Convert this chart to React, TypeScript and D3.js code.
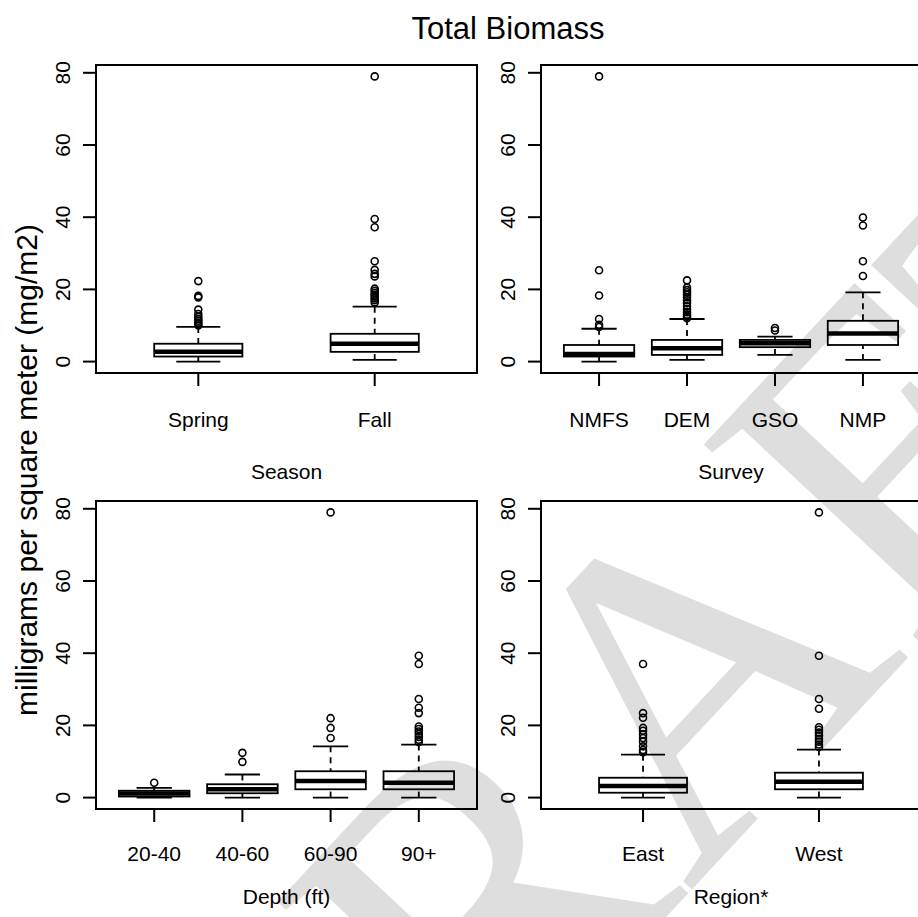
import React from "react";
import * as d3 from "d3";

// ---------- data ----------
const yTickValues = [0, 20, 40, 60, 80];

const seasonCats = ["Spring", "Fall"];
// [lower whisker, Q1, median, Q3, upper whisker]
const seasonStats = [
  [0, 1.4, 2.75, 4.95, 9.6],
  [0.45, 2.7, 4.95, 7.7, 15.2],
];
const seasonOutliers = [
  [22.3, 18.2, 17.8, 14.4, 13.2, 12.4, 11.8, 11.3, 10.8, 10.4, 10.0],
  [79, 39.5, 37.2, 27.8, 25.4, 24.3, 23.6, 20.2, 19.6, 19.0, 18.5, 18.0, 17.5, 17.0, 16.4],
];

const surveyCats = ["NMFS", "DEM", "GSO", "NMP"];
const surveyStats = [
  [0, 1.4, 2.1, 4.6, 9.1],
  [0.45, 1.85, 3.7, 6.0, 11.8],
  [1.85, 4.0, 5.05, 6.0, 6.9],
  [0.45, 4.6, 7.8, 11.3, 19.2],
];
const surveyOutliers = [
  [79, 25.3, 18.3, 11.8, 10.2, 9.6],
  [22.5, 20.5, 19.8, 19.2, 18.5, 17.8, 17.0, 16.2, 15.3, 14.5, 13.7, 13.0, 12.4, 12.0],
  [9.3, 8.6],
  [39.9, 37.7, 27.8, 23.7],
];

const depthCats = ["20-40", "40-60", "60-90", "90+"];
const depthStats = [
  [0, 0.3, 1.1, 1.9, 2.7],
  [0, 1.2, 2.3, 3.7, 6.4],
  [0, 2.3, 4.6, 7.3, 14.2],
  [0, 2.3, 4.1, 7.3, 14.7],
];
const depthOutliers = [
  [4.1],
  [12.4, 9.9],
  [79, 22.0, 19.3, 16.5],
  [39.3, 37.0, 27.3, 24.9, 23.4, 19.7, 19.0, 18.3, 17.6, 16.8, 16.0, 15.4],
];

const regionCats = ["East", "West"];
const regionStats = [
  [0, 1.35, 3.2, 5.5, 11.9],
  [0, 2.3, 4.4, 6.9, 13.3],
];
const regionOutliers = [
  [37.0, 23.4, 22.1, 19.3, 18.5, 17.5, 16.5, 15.5, 14.2, 13.2, 12.6],
  [79, 39.3, 27.3, 24.6, 19.5, 18.8, 18.0, 17.2, 16.3, 15.5, 14.7, 14.0],
];

const chartTitle = "Total Biomass";
const yAxisTitle = "milligrams per square meter (mg/m2)";
const watermarkText = "DRAFT";

// ---------- layout ----------
const W = 918;
const H = 917;
const FONT = "'Liberation Sans', Arial, Helvetica, sans-serif";
const COLS = [
  [96, 477],
  [541, 921],
];
const ROWS = [
  [65, 373],
  [501, 809],
];
// offsets of tick labels / axis titles below each row's frame
const LABEL_OFF = [54, 52];
const TITLE_OFF = [106, 95];

type PanelProps = {
  cats: string[];
  stats: number[][];
  outliers: number[][];
  xTitle: string;
  col: number;
  row: number;
  boxFrac: number;
};

function BoxPanel({ cats, stats, outliers, xTitle, col, row, boxFrac }: PanelProps) {
  const [x0, x1] = COLS[col];
  const [y0, y1] = ROWS[row];
  const n = cats.length;
  const x = d3
    .scaleLinear()
    .domain([0.5 - 0.04 * n, n + 0.5 + 0.04 * n])
    .range([x0, x1]);
  const all = stats.flat().concat(outliers.flat());
  const [mn, mx] = d3.extent(all) as [number, number];
  const r = mx - mn;
  const y = d3
    .scaleLinear()
    .domain([mn - 0.04 * r, mx + 0.04 * r])
    .range([y1, y0]);
  const unit = x(2) - x(1);
  const bw = unit * boxFrac;
  const sw = bw / 2;
  const tickLen = 13;
  const lw = 1.8;

  return (
    <g>
      {stats.map((s, i) => {
        const cx = x(i + 1);
        const [lo, q1, med, q3, hi] = s;
        return (
          <g key={cats[i]}>
            <line x1={cx} x2={cx} y1={y(hi)} y2={y(q3)} stroke="#000" strokeWidth={lw} strokeDasharray="6,5" />
            <line x1={cx} x2={cx} y1={y(lo)} y2={y(q1)} stroke="#000" strokeWidth={lw} strokeDasharray="6,5" />
            <line x1={cx - sw / 2} x2={cx + sw / 2} y1={y(hi)} y2={y(hi)} stroke="#000" strokeWidth={lw} />
            <line x1={cx - sw / 2} x2={cx + sw / 2} y1={y(lo)} y2={y(lo)} stroke="#000" strokeWidth={lw} />
            <rect x={cx - bw / 2} y={y(q3)} width={bw} height={y(q1) - y(q3)} fill="none" stroke="#000" strokeWidth={lw} />
            <line x1={cx - bw / 2} x2={cx + bw / 2} y1={y(med)} y2={y(med)} stroke="#000" strokeWidth={4.5} />
            {outliers[i].map((v, j) => (
              <circle key={j} cx={cx} cy={y(v)} r={3.5} fill="none" stroke="#000" strokeWidth={1.6} />
            ))}
          </g>
        );
      })}
      {/* frame */}
      <rect x={x0} y={y0} width={x1 - x0} height={y1 - y0} fill="none" stroke="#000" strokeWidth={2} />
      {/* y axis */}
      {yTickValues.map((v) => (
        <g key={v}>
          <line x1={x0 - tickLen} x2={x0} y1={y(v)} y2={y(v)} stroke="#000" strokeWidth={2} />
          <text
            transform={`translate(${x0 - 26},${y(v)}) rotate(-90)`}
            textAnchor="middle"
            fontFamily={FONT}
            fontSize={21}
          >
            {v}
          </text>
        </g>
      ))}
      {/* x axis */}
      {cats.map((c, i) => (
        <g key={c}>
          <line x1={x(i + 1)} x2={x(i + 1)} y1={y1} y2={y1 + tickLen} stroke="#000" strokeWidth={2} />
          <text x={x(i + 1)} y={y1 + LABEL_OFF[row]} textAnchor="middle" fontFamily={FONT} fontSize={21}>
            {c}
          </text>
        </g>
      ))}
      <text x={(x0 + x1) / 2} y={y1 + TITLE_OFF[row]} textAnchor="middle" fontFamily={FONT} fontSize={21}>
        {xTitle}
      </text>
    </g>
  );
}

export default function App() {
  return (
    <svg
      width={W}
      height={H}
      viewBox={`0 0 ${W} ${H}`}
      style={{ position: "absolute", left: 0, top: 0, background: "#fff" }}
    >
      <rect x={0} y={0} width={W} height={H} fill="#fff" />
      <text
        transform="translate(690,740) rotate(-47)"
        textAnchor="middle"
        dominantBaseline="middle"
        fontFamily="'Liberation Serif', 'Times New Roman', serif"
        fontSize={450}
        fill="#dedede"
      >
        {watermarkText}
      </text>
      <text x={508} y={39} textAnchor="middle" fontFamily={FONT} fontSize={31}>
        {chartTitle}
      </text>
      <text
        transform="translate(37,470) rotate(-90)"
        textAnchor="middle"
        fontFamily={FONT}
        fontSize={30}
      >
        {yAxisTitle}
      </text>
      <BoxPanel cats={seasonCats} stats={seasonStats} outliers={seasonOutliers} xTitle="Season" col={0} row={0} boxFrac={0.5} />
      <BoxPanel cats={surveyCats} stats={surveyStats} outliers={surveyOutliers} xTitle="Survey" col={1} row={0} boxFrac={0.8} />
      <BoxPanel cats={depthCats} stats={depthStats} outliers={depthOutliers} xTitle="Depth (ft)" col={0} row={1} boxFrac={0.8} />
      <BoxPanel cats={regionCats} stats={regionStats} outliers={regionOutliers} xTitle="Region*" col={1} row={1} boxFrac={0.5} />
    </svg>
  );
}
